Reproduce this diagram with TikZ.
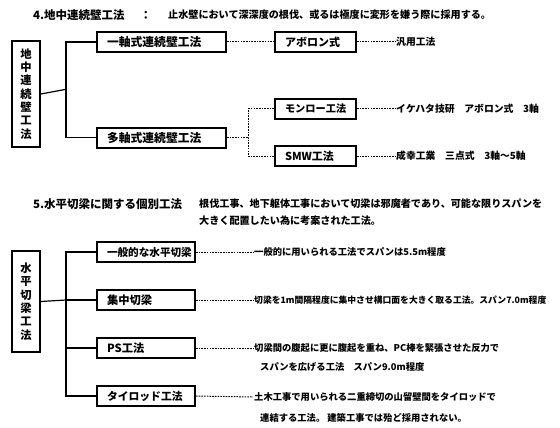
\documentclass[tikz,border=0pt]{standalone}
\usepackage{fontspec}
\newfontfamily\jp{Noto Sans CJK JP}
\begin{document}
\begin{tikzpicture}[x=1pt,y=-1pt,
  bfont/.style={font=\jp\bfseries\fontsize{#1}{12}\selectfont},
  box/.style={draw, line width=2pt, inner ysep=0pt, inner xsep=0pt, minimum height=20pt, text width=#1, align=left, anchor=west, bfont=11.8},
  vbox/.style={draw, line width=2pt, inner sep=0pt, minimum width=28pt, minimum height=#1, align=center, font=\jp\bfseries\fontsize{11.3}{13.35}\selectfont},
  title/.style={anchor=west, inner sep=0pt, bfont=11.5},
  desc/.style={anchor=west, inner sep=0pt, bfont=10.1},
  det/.style={anchor=west, inner sep=1pt, bfont=9.3},
  conn/.style={line width=1.2pt},
  dot/.style={line width=1pt, dash pattern=on 1.6pt off 1.1pt}
]
\useasboundingbox (0,0) rectangle (560,428);
\newcommand\pad{\hspace*{10pt}}

% ---------- section 4 ----------
\node[title] (t4) at (33,15) {4.地中連続壁工法};
\node[title] (t4c) at (140,15) {：};
\node[desc] (t4d) at (168,15) {止水壁において深深度の根伐、或るは極度に変形を嫌う際に採用する。};

\node[vbox=106pt] (L1) at (26,94) {地\\中\\連\\続\\壁\\工\\法};
\node[box=129pt] (b1) at (96,42) {\pad 一軸式連続壁工法};
\node[box=129pt] (b2) at (96,137.5) {\pad 多軸式連続壁工法};
\node[box=81pt, bfont=11] (a1) at (274,42) {\pad アボロン式};
\node[box=81pt, bfont=10.2] (m1) at (274,109) {\pad モンロー工法};
\node[box=81pt, bfont=11] (s1) at (274,156) {\pad SMW工法};

\coordinate (j1) at (66,89.3);
\coordinate (d1) at (248,137.5);
\draw[conn] (L1.east) -- (j1);
\draw[conn] (b1.west) -| (j1) |- (b2.west);
\draw[dot] (b1.east) -- (a1.west);
\draw[dot] (b2.east) -- (d1);
\draw[dot] (m1.west) -| (d1) |- (s1.west);

\node[det, bfont=9.8] (e1) at (395,42) {汎用工法};
\node[det, bfont=9.8] (e2) at (395,109) {イケハタ技研　アボロン式　3軸};
\node[det, bfont=9.8] (e3) at (395,156) {成幸工業　三点式　3軸～5軸};
\draw[dot] (a1.east) -- (e1.west);
\draw[dot] (m1.east) -- (e2.west);
\draw[dot] (s1.east) -- (e3.west);

% ---------- section 5 ----------
\node[title] (t5) at (33,204) {5.水平切梁に関する個別工法};
\node[desc] (t5d) at (199,204) {根伐工事、地下躯体工事において切梁は邪魔者であり、可能な限りスパンを};
\node[desc] (t5e) at (199,221) {大きく配置したい為に考案された工法。};

\node[vbox=101pt] (L2) at (26,301.5) {水\\平\\切\\梁\\工\\法};
\node[box=98pt, bfont=10.6] (c1) at (96,252) {\pad 一般的な水平切梁};
\node[box=98pt, bfont=11.3] (c2) at (96,300) {\pad 集中切梁};
\node[box=98pt, bfont=11.3] (c3) at (96,348) {\pad PS工法};
\node[box=98pt, bfont=10.8] (c4) at (96,396) {\pad タイロッド工法};

\coordinate (j2) at (66,300);
\draw[conn] (L2.east) -- (j2);
\draw[conn] (c1.west) -| (j2) |- (c4.west);
\draw[conn] (j2) -- (c2.west);
\draw[conn] (j2 |- c3.west) -- (c3.west);

\node[det] (f1) at (253,252) {一般的に用いられる工法でスパンは5.5m程度};
\node[det, bfont=8.8] (f2) at (253,300) {切梁を1m間隔程度に集中させ構口面を大きく取る工法。スパン7.0m程度};
\node[det] (f3) at (253,348) {切梁間の腹起に更に腹起を重ね、PC棒を緊張させた反力で};
\node[det] (f3b) at (259,367) {スパンを広げる工法　スパン9.0m程度};
\node[det] (f4) at (253,397) {土木工事で用いられる二重締切の山留壁間をタイロッドで};
\node[det] (f4b) at (259,418) {連結する工法。 建築工事では殆ど採用されない。};
\draw[dot] (c1.east) -- (f1.west);
\draw[dot] (c2.east) -- (f2.west);
\draw[dot] (c3.east) -- (f3.west);
\draw[dot] (c4.east) -- (f4.west);
\end{tikzpicture}
\end{document}
